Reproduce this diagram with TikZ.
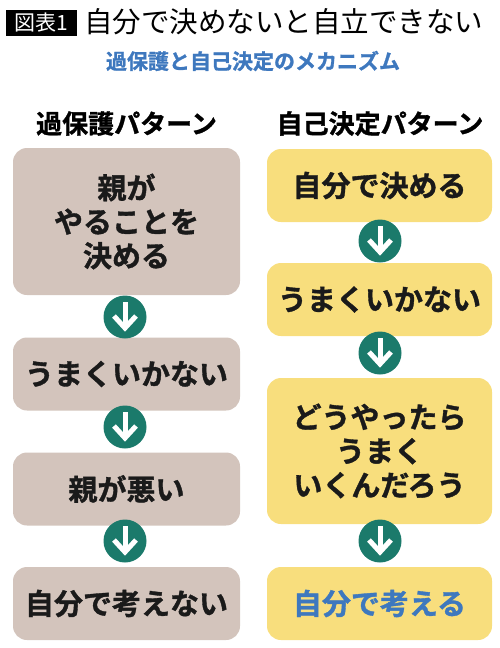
\documentclass[tikz,border=0pt]{standalone}
\usepackage{fontspec}
\setmainfont{Noto Sans CJK JP}[BoldFont={Noto Sans CJK JP Bold}, BoldFeatures={FakeBold=1.2}]
\definecolor{boxgray}{HTML}{D3C4BC}
\definecolor{boxyellow}{HTML}{F8DE7D}
\definecolor{arrowteal}{HTML}{1B7A6B}
\definecolor{titleblue}{HTML}{3E78BE}
\definecolor{inkblack}{HTML}{1A1A1A}

\tikzset{
  flowbox/.style={rounded corners=14pt, minimum height=73pt, inner sep=0pt,
    align=center, text=inkblack, font=\bfseries\fontsize{29}{34}\selectfont},
  parentbox/.style={flowbox, fill=boxgray, minimum width=227pt},
  selfbox/.style={flowbox, fill=boxyellow, minimum width=225pt},
  stepcircle/.style={circle, fill=arrowteal, minimum size=43pt, inner sep=0pt},
  arrowline/.style={white, line width=5pt}
}

\begin{document}
\begin{tikzpicture}[x=1pt,y=-1pt]
  \useasboundingbox (0,0) rectangle (500,648);

  % title
  \node (tag) [fill=black, text=white, minimum width=71pt, minimum height=26pt,
    inner sep=0pt, font=\fontsize{21}{21}\selectfont] at (41.5,23) {図表1};
  \node (title) [anchor=west, inner sep=0pt, font=\fontsize{28.5}{28.5}\selectfont]
    at (84,22) {自分で決めないと自立できない};
  \node (subtitle) [text=titleblue, font=\bfseries\fontsize{21}{21}\selectfont]
    at (253,61) {過保護と自己決定のメカニズム};

  % column heads
  \node (lhead) [font=\bfseries\fontsize{26}{26}\selectfont] at (126.5,123.5) {過保護パターン};
  \node (rhead) [font=\bfseries\fontsize{26}{26}\selectfont] at (380,123.5) {自己決定パターン};

  % over-protection pattern
  \node (l1) [parentbox, minimum height=147pt] at (126.5,221.5) {親が\\やることを\\決める};
  \node (l2) [parentbox] at (126.5,374) {うまくいかない};
  \node (l3) [parentbox] at (126.5,489) {親が悪い};
  \node (l4) [parentbox] at (126.5,603.5) {自分で考えない};
  \node (la1) [stepcircle] at (125,317) {};
  \node (la2) [stepcircle] at (125,427) {};
  \node (la3) [stepcircle] at (125,541) {};

  % self-determination pattern
  \node (r1) [selfbox] at (379.5,185.5) {自分で決める};
  \node (r2) [selfbox] at (379.5,299.5) {うまくいかない};
  \node (r3) [selfbox, minimum height=146pt] at (379.5,451) {どうやったら\\うまく\\いくんだろう};
  \node (r4) [selfbox, text=titleblue] at (379.5,603.5) {自分で考える};
  \node (ra1) [stepcircle] at (380,241) {};
  \node (ra2) [stepcircle] at (380,353) {};
  \node (ra3) [stepcircle] at (380,541) {};

  % white arrows in the circles
  \foreach \c in {la1,la2,la3,ra1,ra2,ra3} {
    \draw[arrowline] ([yshift=15pt]\c.center) -- ([yshift=-11pt]\c.center);
    \draw[arrowline] ([xshift=-11pt,yshift=1pt]\c.center) -- ([yshift=-11pt]\c.center)
      -- ([xshift=11pt,yshift=1pt]\c.center);
  }
\end{tikzpicture}
\end{document}
